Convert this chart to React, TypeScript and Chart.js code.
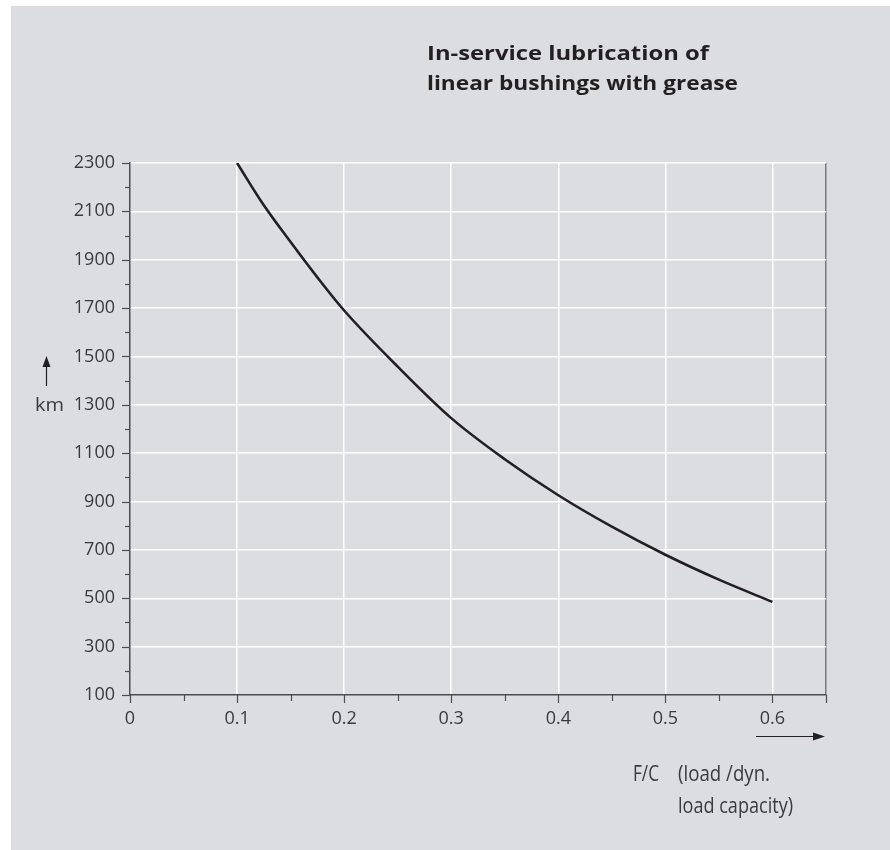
import React, { useEffect, useRef } from "react";
import { Chart, registerables } from "chart.js";
Chart.register(...registerables);

// ---- data ----
const fcValues = [0.1, 0.125, 0.15, 0.175, 0.2, 0.25, 0.3, 0.35, 0.4, 0.45, 0.5, 0.55, 0.6];
const kmValues = [2300, 2125, 1973, 1827, 1690, 1458, 1245, 1075, 926, 796, 680, 577, 485];
const xMajorTicks = [0, 0.1, 0.2, 0.3, 0.4, 0.5, 0.6];
const yMajorTicks = [100, 300, 500, 700, 900, 1100, 1300, 1500, 1700, 1900, 2100, 2300];
const titleLines = ["In-service lubrication of", "linear bushings with grease"];
const yUnit = "km";
const xLabelLines = ["F/C", "(load /dyn.", "load capacity)"];

const PANEL = "#dcdde0";
const AXIS = "#4d4d4d";
const TEXT = "#3a3a3a";
const FONT = "'Open Sans', 'Noto Sans', sans-serif";

const near = (a: number, b: number) => Math.abs(a - b) < 1e-6;
const isXMajor = (v: number) => xMajorTicks.some((m) => near(m, v));
const isYMajor = (v: number) => yMajorTicks.some((m) => near(m, v));

function fitText(ctx: CanvasRenderingContext2D, text: string, x: number, y: number, width: number) {
  const w = ctx.measureText(text).width;
  ctx.save();
  ctx.translate(x, y);
  ctx.scale(width / w, 1);
  ctx.fillText(text, 0, 0);
  ctx.restore();
}

const decor = {
  id: "decor",
  beforeDraw(chart: any) {
    const ctx = chart.ctx as CanvasRenderingContext2D;
    ctx.save();
    ctx.fillStyle = "#ffffff";
    ctx.fillRect(0, 0, chart.width, chart.height);
    ctx.fillStyle = PANEL;
    ctx.fillRect(11, 6, chart.width - 11, chart.height - 6);
    ctx.restore();
  },
  afterDraw(chart: any) {
    const ctx = chart.ctx as CanvasRenderingContext2D;
    const xs = chart.scales.x;
    const ys = chart.scales.y;
    const area = chart.chartArea;
    ctx.save();
    // tick marks
    ctx.strokeStyle = AXIS;
    ctx.lineWidth = 1.2;
    xs.ticks.forEach((t: any) => {
      const px = Math.round(xs.getPixelForValue(t.value)) + 0.5;
      const len = isXMajor(t.value) || near(t.value, xs.max) ? 8 : 6;
      ctx.beginPath();
      ctx.moveTo(px, area.bottom);
      ctx.lineTo(px, area.bottom + len);
      ctx.stroke();
    });
    ys.ticks.forEach((t: any) => {
      const py = Math.round(ys.getPixelForValue(t.value)) + 0.5;
      const len = isYMajor(t.value) ? 8 : 5;
      ctx.beginPath();
      ctx.moveTo(area.left - len, py);
      ctx.lineTo(area.left, py);
      ctx.stroke();
    });

    // title
    ctx.fillStyle = "#231f20";
    ctx.font = `700 20px ${FONT}`;
    ctx.textBaseline = "alphabetic";
    ctx.textAlign = "left";
    fitText(ctx, titleLines[0], 427, 60, 282);
    fitText(ctx, titleLines[1], 427, 90, 311);

    // y unit + arrow
    ctx.fillStyle = TEXT;
    ctx.font = `18px ${FONT}`;
    fitText(ctx, yUnit, 35, 411, 29);
    ctx.strokeStyle = "#231f20";
    ctx.lineWidth = 1.2;
    ctx.beginPath();
    ctx.moveTo(46.5, 386);
    ctx.lineTo(46.5, 365);
    ctx.stroke();
    ctx.fillStyle = "#231f20";
    ctx.beginPath();
    ctx.moveTo(46.5, 356);
    ctx.lineTo(42.5, 367);
    ctx.lineTo(50.5, 367);
    ctx.closePath();
    ctx.fill();

    // x arrow
    ctx.beginPath();
    ctx.moveTo(756, 736.5);
    ctx.lineTo(815, 736.5);
    ctx.stroke();
    ctx.beginPath();
    ctx.moveTo(825, 736.5);
    ctx.lineTo(813, 732.5);
    ctx.lineTo(813, 740.5);
    ctx.closePath();
    ctx.fill();

    // x label
    ctx.fillStyle = TEXT;
    ctx.font = `21px ${FONT}`;
    fitText(ctx, xLabelLines[0], 633, 781, 26);
    fitText(ctx, xLabelLines[1], 678, 781, 92);
    fitText(ctx, xLabelLines[2], 678, 813, 115);
    ctx.restore();
  },
};

export default function App() {
  const ref = useRef<HTMLCanvasElement | null>(null);
  useEffect(() => {
    document.body.style.margin = "0";
    const canvas = ref.current;
    if (!canvas) return;
    const chart = new Chart(canvas, {
      type: "line",
      data: {
        datasets: [
          {
            data: fcValues.map((x, i) => ({ x, y: kmValues[i] })),
            borderColor: "#231f20",
            borderWidth: 2.6,
            pointRadius: 0,
            cubicInterpolationMode: "monotone",
            fill: false,
          },
        ],
      },
      options: {
        animation: false,
        responsive: false,
        maintainAspectRatio: false,
        layout: { padding: { left: 0, right: 64, top: 163, bottom: 0 } },
        plugins: { legend: { display: false }, tooltip: { enabled: false }, title: { display: false } },
        scales: {
          x: {
            type: "linear",
            min: 0,
            max: 0.65,
            afterFit: (s: any) => {
              s.height = 155;
            },
            ticks: {
              stepSize: 0.05,
              autoSkip: false,
              maxRotation: 0,
              padding: 13,
              color: TEXT,
              font: { family: FONT, size: 18 },
              callback: (v: any) => (isXMajor(Number(v)) ? String(Math.round(Number(v) * 10) / 10) : ""),
            },
            grid: {
              drawTicks: false,
              lineWidth: 1.5,
              color: (c: any) => {
                const v = c.tick ? c.tick.value : 0;
                if (near(v, 0.65)) return "#7a7a7a";
                if (near(v, 0)) return "rgba(0,0,0,0)";
                return isXMajor(v) ? "#ffffff" : "rgba(0,0,0,0)";
              },
            },
            border: { display: true, color: AXIS, width: 1.5 },
          },
          y: {
            type: "linear",
            min: 100,
            max: 2300,
            afterFit: (s: any) => {
              s.width = 130;
            },
            ticks: {
              stepSize: 100,
              autoSkip: false,
              padding: 15,
              color: TEXT,
              font: { family: FONT, size: 18 },
              callback: (v: any) => (isYMajor(Number(v)) ? String(v) : ""),
            },
            grid: {
              drawTicks: false,
              lineWidth: 1.5,
              color: (c: any) => {
                const v = c.tick ? c.tick.value : 0;
                if (near(v, 100)) return "rgba(0,0,0,0)";
                return isYMajor(v) ? "#ffffff" : "rgba(0,0,0,0)";
              },
            },
            border: { display: true, color: AXIS, width: 1.5 },
          },
        },
      },
      plugins: [decor],
    } as any);
    return () => chart.destroy();
  }, []);
  return (
    <div style={{ width: 890, height: 850 }}>
      <canvas ref={ref} width={890} height={850} style={{ display: "block" }} />
    </div>
  );
}
